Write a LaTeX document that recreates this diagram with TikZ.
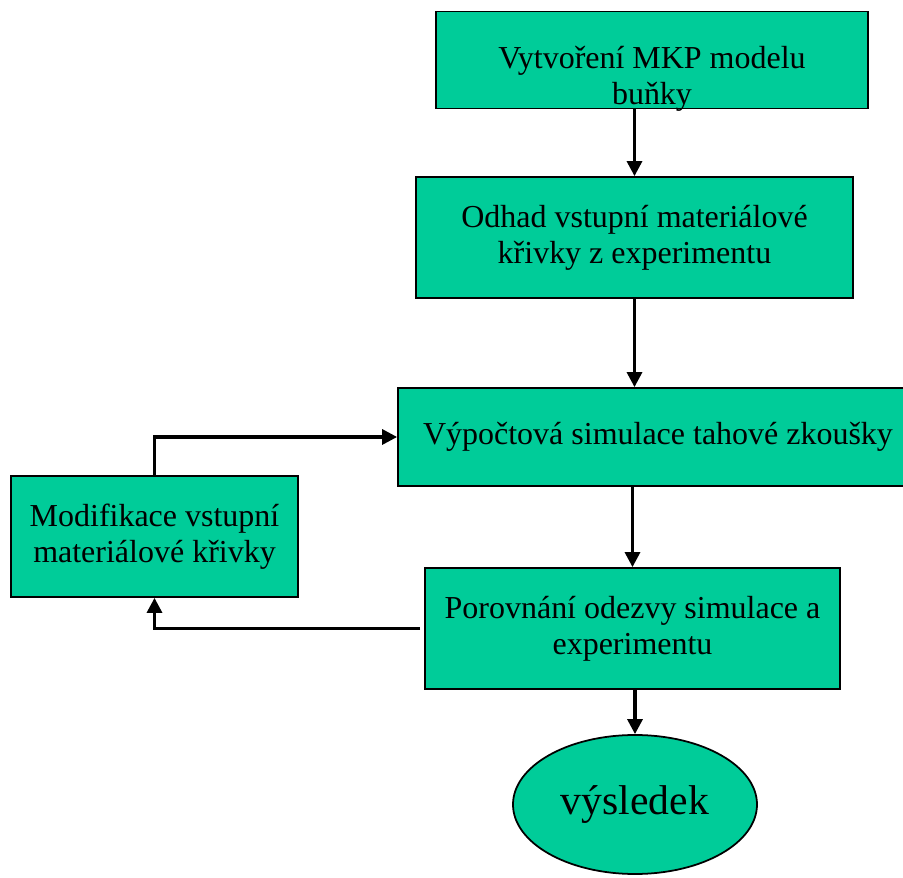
\documentclass[tikz,border=0pt]{standalone}
\usepackage{fontspec}
\setmainfont{Liberation Serif}
\usetikzlibrary{arrows.meta,shapes.geometric}
\definecolor{boxgreen}{RGB}{0,204,153}

\begin{document}
\begin{tikzpicture}[
  box/.style={draw, line width=1pt, fill=boxgreen, align=center, inner sep=0pt,
    font=\fontsize{18.2}{20.5}\selectfont},
  flow/.style={line width=1.8pt, -{Triangle[length=0.3cm,width=0.3cm]}}]
\useasboundingbox (0,0) rectangle (18.06,17.54);
% process boxes
\node[box, minimum width=8.64cm, minimum height=1.92cm, text height=1.86cm, text depth=0.08cm] (model) at (13.04,16.34) {Vytvoření MKP modelu\\buňky};
\node[box, minimum width=8.74cm, minimum height=2.42cm] (guess) at (12.69,12.79) {Odhad vstupní materiálové\\křivky z experimentu};
\node[box, minimum width=10.4cm, minimum height=1.96cm] (sim) at (13.16,8.80) {Výpočtová simulace tahové zkoušky};
\node[box, minimum width=5.74cm, minimum height=2.42cm] (modif) at (3.09,6.81) {Modifikace vstupní\\materiálové křivky};
\node[box, minimum width=8.30cm, minimum height=2.42cm] (compare) at (12.65,4.97) {Porovnání odezvy simulace a\\experimentu};
\node[box, ellipse, minimum width=4.88cm, minimum height=2.78cm, font=\fontsize{23.7}{26}\selectfont] (result) at (12.70,1.45) {výsledek};
% main flow
\draw[flow] (guess.north |- model.south) -- (guess.north);
\draw[flow] (guess.south) -- (guess.south |- sim.north);
\draw[flow] (compare.north |- sim.south) -- (compare.north);
\draw[flow] (result.north |- compare.south) -- (result.north);
% feedback loop
\draw[flow, shorten <=0.08cm] (compare.west) -| (modif.south);
\draw[flow] (modif.north) |- (sim.west);
\end{tikzpicture}
\end{document}
